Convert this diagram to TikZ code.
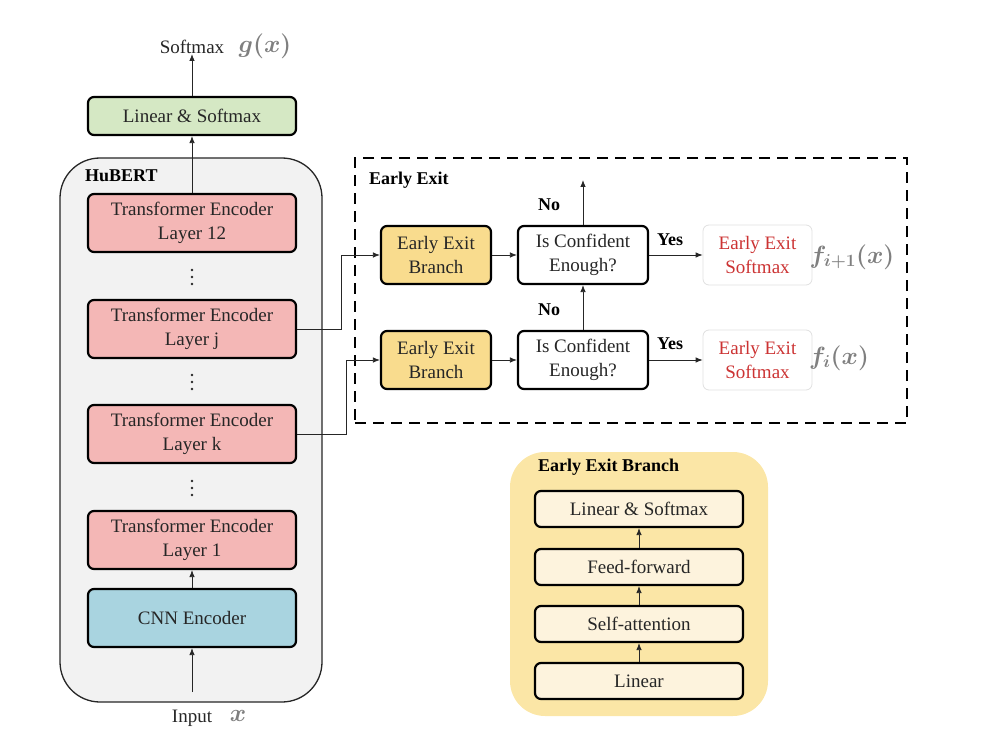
\documentclass[tikz,border=0pt]{standalone}
\usepackage{fontspec}
\setmainfont{Liberation Serif}
\usetikzlibrary{arrows.meta}
\definecolor{txt}{HTML}{262626}
\definecolor{hubfill}{HTML}{F2F2F2}
\definecolor{greenC}{HTML}{D5E8C4}
\definecolor{pinkC}{HTML}{F4B7B6}
\definecolor{blueC}{HTML}{A9D4E0}
\definecolor{yellowC}{HTML}{F9DC8E}
\definecolor{contC}{HTML}{FBE6A6}
\definecolor{creamC}{HTML}{FDF3DD}
\definecolor{redT}{HTML}{CC3333}
\definecolor{mathG}{HTML}{7F7F7F}
\begin{document}
\begin{tikzpicture}[x=1pt,y=-1pt,
  box/.style={draw=black, line width=2.2pt, rounded corners=6pt, minimum width=208pt,
    minimum height=58pt, align=center, font=\fontsize{19}{24}\selectfont, text=txt, inner sep=0pt},
  smallbox/.style={box, minimum width=110pt},
  confbox/.style={box, minimum width=130pt, fill=white},
  softbox/.style={draw=black!12, line width=0.8pt, rounded corners=6pt, minimum width=109pt,
    minimum height=60pt, align=center, font=\fontsize{19}{24}\selectfont, text=redT, fill=white, inner sep=0pt},
  innerbox/.style={box, minimum height=36pt, fill=creamC},
  arr/.style={-{Latex[length=7pt,width=5.5pt]}, line width=0.8pt, draw=black!85},
  lbl/.style={font=\fontsize{18}{22}\selectfont\bfseries, text=black, inner sep=0pt},
  plain/.style={font=\fontsize{19}{24}\selectfont, text=txt, inner sep=0pt},
  mlabel/.style={font=\fontsize{24}{28}\selectfont\boldmath, text=mathG, inner sep=0pt},
  dotc/.style={circle, fill=txt, inner sep=0pt, minimum size=2.8pt}
]
\useasboundingbox (0,0) rectangle (990,754);

% HuBERT container
\node[draw=black!85, line width=1.3pt, rounded corners=40pt, fill=hubfill,
  minimum width=262pt, minimum height=544pt, inner sep=0pt] (hub) at (191,430) {};
\node[lbl, anchor=west] (hubl) at (85,176) {HuBERT};

% left column
\node[plain] (sm) at (192,47) {Softmax};
\node[mlabel] (gx) at (265,46) {$g(x)$};
\node[box, fill=greenC, minimum height=38pt] (ls) at (192,116) {Linear \& Softmax};
\node[box, fill=pinkC] (l12) at (192,223) {Transformer Encoder\\Layer 12};
\node[box, fill=pinkC] (lj) at (192,329) {Transformer Encoder\\Layer j};
\node[box, fill=pinkC] (lk) at (192,434) {Transformer Encoder\\Layer k};
\node[box, fill=pinkC] (l1) at (192,540) {Transformer Encoder\\Layer 1};
\node[box, fill=blueC] (cnn) at (192,618) {CNN Encoder};
\foreach \yy/\nm in {277/da, 382/db, 488/dc}{
  \node[dotc] (\nm1) at (192,\yy-7) {};
  \node[dotc] (\nm2) at (192,\yy) {};
  \node[dotc] (\nm3) at (192,\yy+7) {};
}
\node[plain] (inp) at (192,718) {Input};
\node[mlabel] (xin) at (238,716) {$x$};
\coordinate (in0) at (192,692);

\draw[arr] (in0) -- (cnn.south);
\draw[arr] (cnn.north) -- (l1.south);
\draw[arr] (l12.north) -- (ls.south);
\draw[arr] (ls.north) -- (sm.south);

% Early exit region
\node[draw=black, line width=2.4pt, dash pattern=on 11pt off 7pt,
  minimum width=552pt, minimum height=265pt, inner sep=0pt] (ee) at (631,290.5) {};
\node[lbl, anchor=west] (eel) at (369,180) {Early Exit};

\node[smallbox, fill=yellowC] (b1) at (436,255) {Early Exit\\Branch};
\node[confbox] (c1) at (583,255) {Is Confident\\Enough?};
\node[softbox] (s1) at (757.5,255) {Early Exit\\Softmax};
\node[mlabel] (f1) at (852,257) {$f_{i+1}(x)$};

\node[smallbox, fill=yellowC] (b2) at (436,360) {Early Exit\\Branch};
\node[confbox] (c2) at (583,360) {Is Confident\\Enough?};
\node[softbox] (s2) at (757.5,360) {Early Exit\\Softmax};
\node[mlabel] (f2) at (839,358) {$f_i(x)$};

\coordinate (no0) at (583,180);
\node[lbl] (no1) at (549,205) {No};
\node[lbl] (no2) at (549,310) {No};
\node[lbl] (yes1) at (670,240) {Yes};
\node[lbl] (yes2) at (670,344) {Yes};

\draw[arr] (lj.east) -- ++(44,0) |- (b1.west);
\draw[arr] (lk.east) -- ++(49,0) |- (b2.west);
\draw[arr] (b1.east) -- (c1.west);
\draw[arr] (b2.east) -- (c2.west);
\draw[arr] (c1.east) -- (s1.west);
\draw[arr] (c2.east) -- (s2.west);
\draw[arr] (c1.north) -- (no0);
\draw[arr] (c2.north) -- (c1.south);

% Early exit branch detail
\node[fill=contC, rounded corners=35pt, minimum width=258pt, minimum height=264pt, inner sep=0pt] (eb) at (639,584) {};
\node[lbl, anchor=west] (ebl) at (538,467) {Early Exit Branch};
\node[innerbox] (e4) at (639,509) {Linear \& Softmax};
\node[innerbox] (e3) at (639,567) {Feed-forward};
\node[innerbox] (e2) at (639,624) {Self-attention};
\node[innerbox] (e1) at (639,681) {Linear};
\draw[arr] (e1.north) -- (e2.south);
\draw[arr] (e2.north) -- (e3.south);
\draw[arr] (e3.north) -- (e4.south);
\end{tikzpicture}
\end{document}
